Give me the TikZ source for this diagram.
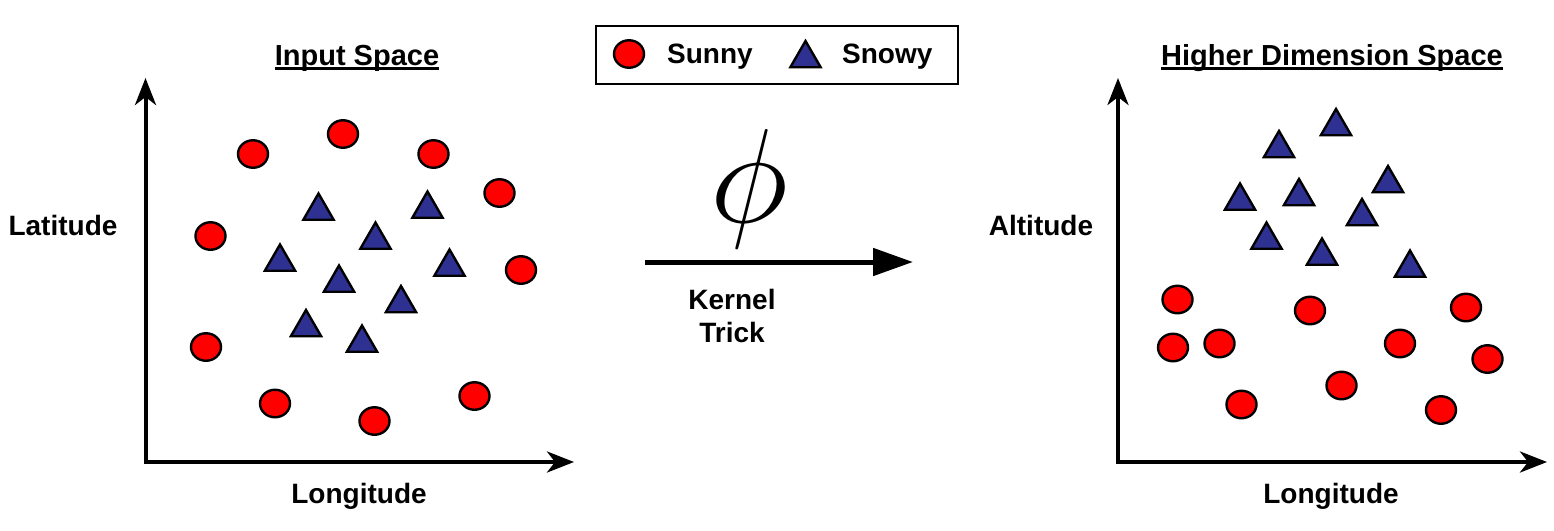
\RequirePackage{fix-cm}
\documentclass[tikz,border=0pt]{standalone}
\usepackage{fontspec}
\setmainfont{Liberation Sans}
\usetikzlibrary{arrows.meta, shapes.geometric}
\definecolor{sunnyred}{RGB}{255,0,0}
\definecolor{snowyblue}{RGB}{46,49,146}

\begin{document}
\begin{tikzpicture}[x=1pt, y=-1pt,
  lbl/.style={font=\fontsize{28}{33}\selectfont\bfseries, inner sep=0pt},
  ttl/.style={font=\fontsize{29}{34}\selectfont\bfseries, inner sep=0pt, anchor=base},
  sunny/.style={ellipse, draw=black, fill=sunnyred, line width=2.4pt, minimum width=30pt, minimum height=27.5pt, inner sep=0pt},
  snowy/.style={regular polygon, regular polygon sides=3, draw=black, fill=snowyblue, line width=2.4pt, minimum size=35pt, inner sep=0pt, yshift=-4pt},
  axis/.style={line width=4pt, {Stealth[length=27pt,width=21pt,inset=8pt]}-{Stealth[length=27pt,width=21pt,inset=8pt]}},
  kernelarrow/.style={line width=5pt, -{Triangle[length=40pt,width=27pt]}}]
\useasboundingbox (0,0) rectangle (1554,530);

% legend
\node[draw=black, line width=2pt, minimum width=362pt, minimum height=58pt, inner sep=0pt] (legend) at (777,55) {};
\node[sunny] (legsun) at (629,54) {};
\node[lbl, anchor=base west] (legsuntxt) at (667,63.5) {Sunny};
\node[snowy] (legsnow) at (805.5,54.5) {};
\node[lbl, anchor=base west] (legsnowtxt) at (842,63.5) {Snowy};

% input space
\node[ttl] (intitle) at (357,65) {Input Space};
\draw[line width=2.5pt] ([yshift=-3.5pt]intitle.base west) -- ([yshift=-3.5pt]intitle.base east);
\coordinate (inorigin) at (145.5,462);
\coordinate (inytip) at (145.5,78);
\coordinate (inxtip) at (574,462);
\draw[axis] (inytip) -- (inorigin) -- (inxtip);
\node[lbl, anchor=base] (lat) at (63,235) {Latitude};
\node[lbl, anchor=base] (inlon) at (359,503) {Longitude};
\foreach \x/\y [count=\i] in {253/154, 343/134, 433.5/154, 499.5/193, 210.5/236, 521/270, 206/347, 275/403.5, 374.5/421, 474.5/396}
  \node[sunny] (insun\i) at (\x,\y) {};
\foreach \x/\y [count=\i] in {318.5/207, 427.5/205, 375.5/236, 280/258, 449.5/263, 339/279, 401/299.5, 306/323.5, 362/339}
  \node[snowy] (insnow\i) at (\x,\y) {};

% kernel trick
\node[inner sep=0pt, font=\fontsize{134}{134}\selectfont] (phi) at (749,188.5) {$\phi$};
\coordinate (kstart) at (645,262);
\coordinate (kend) at (913,262);
\draw[kernelarrow] (kstart) -- (kend);
\node[lbl, anchor=base] (kernel) at (732,309) {Kernel};
\node[lbl, anchor=base] (trick) at ([yshift=-33.5pt]kernel.base) {Trick};

% higher dimension space
\node[ttl] (hititle) at (1332,65) {Higher Dimension Space};
\draw[line width=2.5pt] ([yshift=-3.5pt]hititle.base west) -- ([yshift=-3.5pt]hititle.base east);
\coordinate (hiorigin) at (1118,462);
\coordinate (hiytip) at (1118,78);
\coordinate (hixtip) at (1547,462);
\draw[axis] (hiytip) -- (hiorigin) -- (hixtip);
\node[lbl, anchor=base] (alt) at (1041,235) {Altitude};
\node[lbl, anchor=base] (hilon) at (1331,503) {Longitude};
\foreach \x/\y [count=\i] in {1177.5/299.5, 1173/347.5, 1219.5/343.5, 1310/310.5, 1466/307.5, 1400/343.5, 1487.5/359, 1341.5/385.5, 1241.5/404.5, 1441/410}
  \node[sunny] (hisun\i) at (\x,\y) {};
\foreach \x/\y [count=\i] in {1336/122.5, 1279/144.5, 1388/179.5, 1240/197, 1299/192.5, 1362/212.5, 1266.5/236, 1322/252, 1410/264}
  \node[snowy] (hisnow\i) at (\x,\y) {};
\end{tikzpicture}
\end{document}
